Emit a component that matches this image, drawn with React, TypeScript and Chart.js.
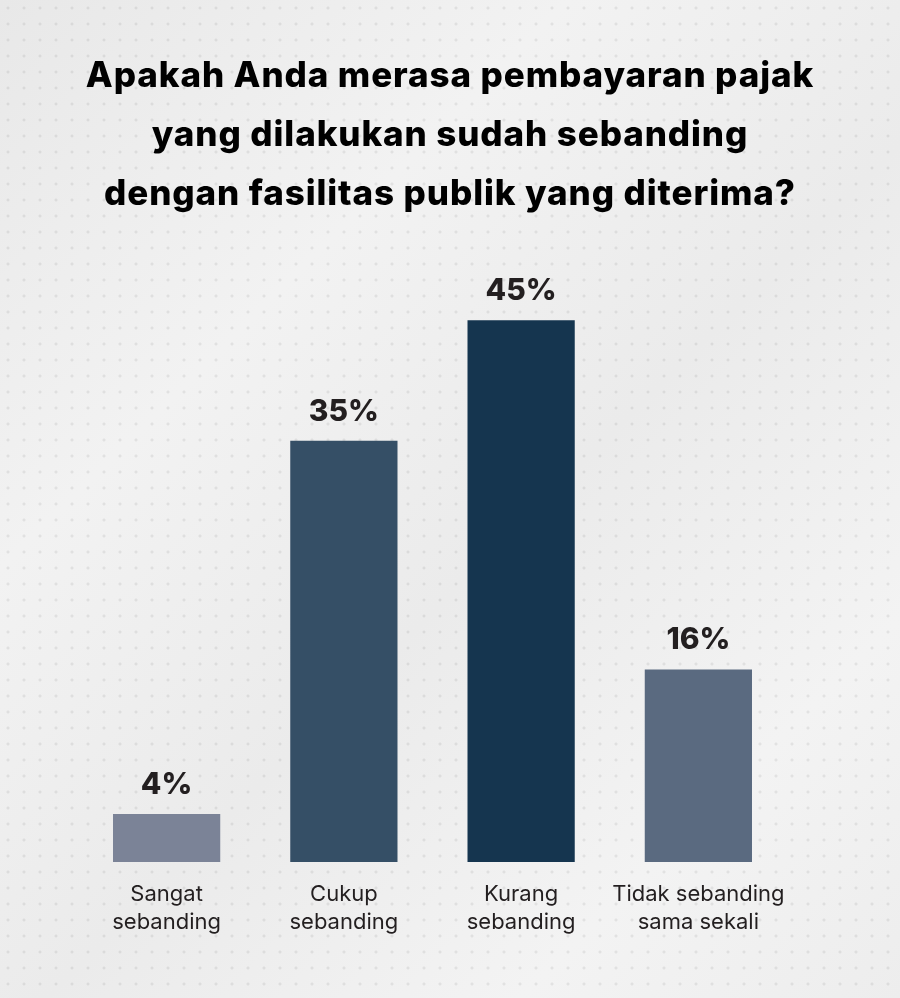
import { useEffect, useRef } from 'react';
import { Chart, registerables } from 'chart.js';

Chart.register(...registerables);

const titleLines = [
  'Apakah Anda merasa pembayaran pajak',
  'yang dilakukan sudah sebanding',
  'dengan fasilitas publik yang diterima?',
];
const categories = [
  ['Sangat', 'sebanding'],
  ['Cukup', 'sebanding'],
  ['Kurang', 'sebanding'],
  ['Tidak sebanding', 'sama sekali'],
];
const percentages = [4, 35, 45, 16];
const barColors = ['#7b8397', '#354f66', '#15354f', '#5a6a80'];

// draws "45%" etc above each bar
const valueLabels = {
  id: 'valueLabels',
  afterDatasetsDraw(chart: Chart) {
    const { ctx } = chart;
    const meta = chart.getDatasetMeta(0);
    ctx.save();
    ctx.font = '800 30px Inter';
    ctx.fillStyle = '#231f20';
    ctx.textAlign = 'center';
    ctx.textBaseline = 'middle';
    meta.data.forEach((bar: any, i: number) => {
      ctx.fillText(percentages[i] + '%', bar.x, bar.y - 29);
    });
    ctx.restore();
  },
};

export default function App() {
  const canvasRef = useRef<HTMLCanvasElement>(null);

  useEffect(() => {
    if (!canvasRef.current) return;
    const chart = new Chart(canvasRef.current, {
      type: 'bar',
      data: {
        labels: categories,
        datasets: [
          {
            data: percentages,
            backgroundColor: barColors,
            categoryPercentage: 1,
            barPercentage: 0.605,
          },
        ],
      },
      options: {
        animation: false,
        responsive: true,
        maintainAspectRatio: false,
        layout: { padding: { left: 78, right: 113, top: 260, bottom: 44 } },
        plugins: {
          legend: { display: false },
          tooltip: { enabled: false },
        },
        scales: {
          x: {
            grid: { display: false, drawTicks: false },
            border: { display: false },
            ticks: {
              color: '#231f20',
              font: { family: 'Inter', size: 22, lineHeight: 1.27 },
              padding: 18,
              maxRotation: 0,
              autoSkip: false,
            },
          },
          y: {
            display: false,
            min: 0,
            max: 50,
          },
        },
      },
      plugins: [valueLabels],
    });
    return () => chart.destroy();
  }, []);

  return (
    <div
      style={{
        position: 'fixed',
        left: 0,
        top: 0,
        width: 900,
        height: 998,
        background:
          'radial-gradient(circle, rgba(0,0,0,0.07) 1.2px, transparent 1.8px) 0 0 / 16px 16px, linear-gradient(135deg, #e8e8e8 0%, #f2f2f2 30%, #ebebeb 55%, #f3f3f3 80%, #ededed 100%)',
      }}
    >
      <div
        style={{
          position: 'absolute',
          left: 0,
          top: 45,
          width: 900,
          textAlign: 'center',
          fontFamily: 'Inter',
          fontWeight: 800,
          fontSize: 35,
          letterSpacing: 0.9,
          lineHeight: '59px',
          color: '#000',
        }}
      >
        {titleLines.map((line) => (
          <div key={line}>{line}</div>
        ))}
      </div>
      <canvas ref={canvasRef} />
    </div>
  );
}
